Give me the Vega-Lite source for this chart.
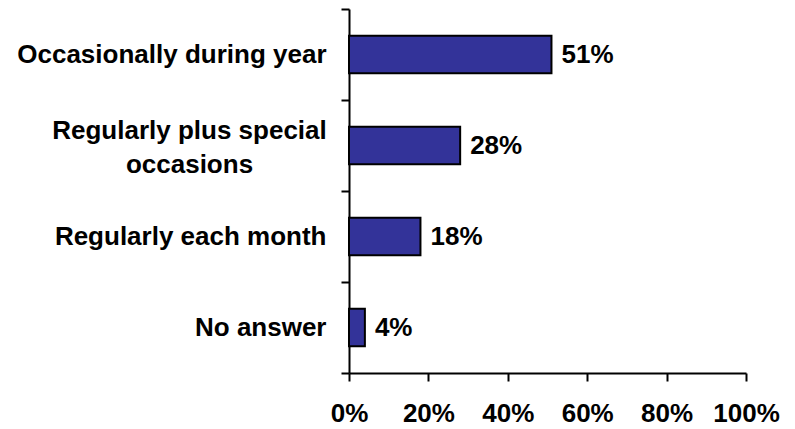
{
  "$schema": "https://vega.github.io/schema/vega-lite/v6.json",
  "autosize": "none",
  "width": 397,
  "height": 364,
  "padding": {"left": 349, "top": 9, "right": 49, "bottom": 56},
  "background": "white",
  "config": {
    "view": {"stroke": null},
    "font": "Liberation Sans"
  },
  "data": {
    "values": [
      {"category": "Occasionally during year", "share": 0.51},
      {"category": "Regularly plus special occasions", "share": 0.28},
      {"category": "Regularly each month", "share": 0.18},
      {"category": "No answer", "share": 0.04}
    ]
  },
  "encoding": {
    "y": {
      "field": "category",
      "type": "nominal",
      "sort": null,
      "scale": {"paddingInner": 0, "paddingOuter": 0},
      "axis": {
        "title": null,
        "tickBand": "extent",
        "domainColor": "black",
        "domainWidth": 2,
        "tickColor": "black",
        "tickWidth": 2,
        "tickSize": 8,
        "labelFont": "Liberation Sans",
        "labelFontWeight": "bold",
        "labelFontSize": 26,
        "labelColor": "black",
        "labelLimit": 400,
        "labelLineHeight": 34,
        "labelExpr": "datum.value == 'Regularly plus special occasions' ? ['Regularly plus special', 'occasions'] : datum.value",
        "labelAlign": {"condition": {"test": "datum.value == 'Regularly plus special occasions'", "value": "center"}, "value": "right"},
        "labelPadding": {"condition": {"test": "datum.value == 'Regularly plus special occasions'", "value": 152}, "value": 15},
        "labelOffset": {"condition": {"test": "datum.value == 'Regularly plus special occasions'", "value": -15}, "value": 0}
      }
    },
    "x": {
      "field": "share",
      "type": "quantitative",
      "scale": {"domain": [0, 1], "nice": false},
      "axis": {
        "title": null,
        "values": [0, 0.2, 0.4, 0.6, 0.8, 1],
        "format": ".0%",
        "grid": false,
        "domainColor": "black",
        "domainWidth": 2,
        "tickColor": "black",
        "tickWidth": 2,
        "tickSize": 8,
        "labelFont": "Liberation Sans",
        "labelFontWeight": "bold",
        "labelFontSize": 26,
        "labelColor": "black",
        "labelPadding": 19,
        "labelFlush": false,
        "labelOverlap": false
      }
    }
  },
  "layer": [
    {
      "mark": {"type": "bar", "height": {"band": 0.41}, "fill": "#333399", "stroke": "black", "strokeWidth": 2}
    },
    {
      "mark": {"type": "text", "align": "left", "baseline": "middle", "dx": 10, "font": "Liberation Sans", "fontWeight": "bold", "fontSize": 26, "color": "black"},
      "encoding": {
        "text": {"field": "share", "type": "quantitative", "format": ".0%"}
      }
    }
  ]
}
